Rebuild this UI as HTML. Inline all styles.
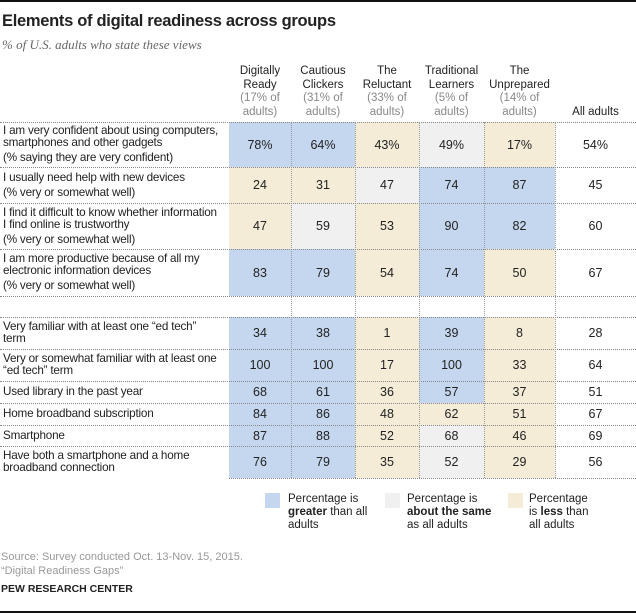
<!DOCTYPE html>
<html><head><meta charset="utf-8">
<style>
body{margin:0;background:#fff;}
#root{position:relative;width:636px;height:614px;overflow:hidden;font-family:"Liberation Sans",sans-serif;color:#222;}
.abs{position:absolute;}
.hdr{position:absolute;text-align:center;font-size:11.5px;line-height:13.5px;top:65px;}
.hdr .sub{color:#888;}
.lbl{position:absolute;left:3px;width:226px;display:flex;flex-direction:column;justify-content:center;font-size:11.7px;line-height:12px;letter-spacing:-0.2px;}
.lbl .note{margin-top:3px;}
.cell{position:absolute;display:flex;align-items:center;justify-content:center;font-size:12.5px;box-sizing:border-box;}
.hl{position:absolute;left:0;width:636px;height:0;border-top:1px dotted #888;}
.vl{position:absolute;width:0;border-left:1px dotted #999;}
.leg{position:absolute;font-size:11.5px;line-height:13px;}
.sw{position:absolute;width:15px;height:15px;}
</style></head><body>
<div id="root">
<div class="abs" style="left:0;top:0;width:636px;height:2px;background:#111"></div>
<div class="abs" style="left:2px;top:12px;font-size:16.5px;font-weight:bold;letter-spacing:-0.3px">Elements of digital readiness across groups</div>
<div class="abs" style="left:2px;top:37px;font-family:'Liberation Serif',serif;font-style:italic;font-size:13px;color:#666">% of U.S. adults who state these views</div>
<div id="table"></div>
<div class="sw" style="left:265px;top:493px;background:#c5d7ee"></div>
<div class="leg" style="left:288px;top:493px">Percentage is<br><b>greater</b> than all<br>adults</div>
<div class="sw" style="left:385px;top:493px;background:#f0f0f0"></div>
<div class="leg" style="left:407px;top:493px">Percentage is<br><b>about the same</b><br>as all adults</div>
<div class="sw" style="left:508px;top:493px;background:#f4ecd7"></div>
<div class="leg" style="left:529px;top:493px">Percentage<br>is <b>less</b> than<br>all adults</div>
<div class="abs" style="left:1px;top:550px;font-size:11px;line-height:14px;color:#999">Source: Survey conducted Oct. 13-Nov. 15, 2015.<br>“Digital Readiness Gaps”</div>
<div class="abs" style="left:1px;top:583px;font-size:10.5px;font-weight:bold">PEW RESEARCH CENTER</div>
<div class="abs" style="left:0;top:611px;width:636px;height:2px;background:#111"></div>
</div>
<script>
const groups = ["Digitally<br>Ready","Cautious<br>Clickers","The<br>Reluctant","Traditional<br>Learners","The<br>Unprepared"];
const groupShares = ["(17% of<br>adults)","(31% of<br>adults)","(33% of<br>adults)","(5% of<br>adults)","(14% of<br>adults)"];
const rowLabels = ["I am very confident about using computers,<br>smartphones and other gadgets","I usually need help with new devices","I find it difficult to know whether information<br>I find online is trustworthy","I am more productive because of all my<br>electronic information devices","","Very familiar with at least one “ed tech”<br>term","Very or somewhat familiar with at least one<br>“ed tech” term","Used library in the past year","Home broadband subscription","Smartphone","Have both a smartphone and a home<br>broadband connection"];
const rowNotes = ["(% saying they are very confident)","(% very or somewhat well)","(% very or somewhat well)","(% very or somewhat well)","","","","","","",""];
const values = [["78%","64%","43%","49%","17%","54%"],["24","31","47","74","87","45"],["47","59","53","90","82","60"],["83","79","54","74","50","67"],["","","","","",""],["34","38","1","39","8","28"],["100","100","17","100","33","64"],["68","61","36","57","37","51"],["84","86","48","62","51","67"],["87","88","52","68","46","69"],["76","79","35","52","29","56"]];
const shading = [["g","g","l","s","l"],["l","l","s","g","g"],["l","s","l","g","g"],["g","g","l","g","l"],["","","","","",""],["g","g","l","g","l"],["g","g","l","g","l"],["g","g","l","g","l"],["g","g","l","l","l"],["g","g","l","s","l"],["g","g","l","s","l"]];
const colX=[229,291,355,419,484,555,636];
const rowY=[122,167,203,249,296,317,349,381,403,425,446,478];
const colors={g:"#c5d7ee",s:"#f0f0f0",l:"#f4ecd7","":"transparent"};
const t=document.getElementById('table');
groups.forEach((g,i)=>{
  const d=document.createElement('div');d.className='hdr';
  
  
  d.style.left=colX[i]+'px';d.style.width=(colX[i+1]-colX[i])+'px';
  d.innerHTML=g+'<div class="sub">'+groupShares[i]+'</div>';t.appendChild(d);
});
const ah=document.createElement('div');ah.className='hdr';


ah.style.left='555px';ah.style.width='81px';ah.style.top='106px';ah.textContent='All adults';t.appendChild(ah);
rowLabels.forEach((lab,r)=>{
  const y0=rowY[r],y1=rowY[r+1];
  const l=document.createElement('div');l.className='lbl';
  
  
  l.style.top=y0+'px';l.style.height=(y1-y0)+'px';
  l.innerHTML='<div>'+lab+'</div>'+(rowNotes[r]?'<div class="note">'+rowNotes[r]+'</div>':'');
  t.appendChild(l);
  values[r].forEach((v,c)=>{
    const e=document.createElement('div');e.className='cell';
    
    
    e.style.left=colX[c]+'px';e.style.top=y0+'px';
    e.style.width=(colX[c+1]-colX[c])+'px';e.style.height=(y1-y0)+'px';
    e.style.background=colors[c<5?shading[r][c]:""];
    e.textContent=v;t.appendChild(e);
  });
});
rowY.forEach((y,i)=>{
  const h=document.createElement('div');h.className='hl';
  
  
  h.style.top=y+'px';
  if(i===rowY.length-1){h.style.left='229px';h.style.width='407px';}
  t.appendChild(h);
});
colX.slice(1,6).forEach(x=>{
  const v=document.createElement('div');v.className='vl';
  
  
  v.style.left=x+'px';v.style.top='122px';v.style.height='356px';
  t.appendChild(v);
});
</script>
</body></html>
